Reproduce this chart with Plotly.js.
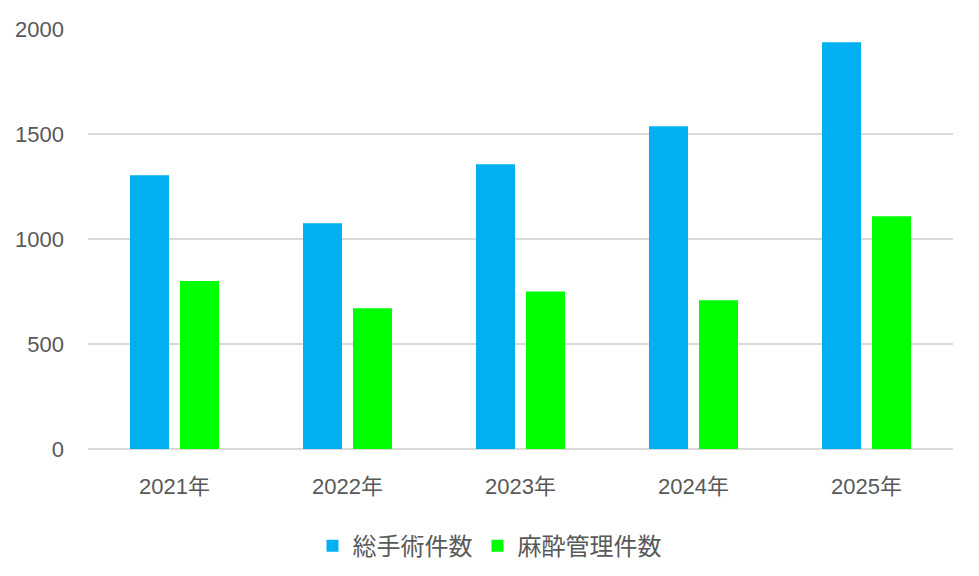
<!DOCTYPE html>
<html>
<head>
<meta charset="utf-8">
<script src="https://cdn.plot.ly/plotly-3.0.1.min.js"></script>
<style>html,body{margin:0;padding:0;background:#fff;}#chart{width:979px;height:576px;}</style>
</head>
<body>
<div id="chart"></div>
<script>
const categories = ["2021年", "2022年", "2023年", "2024年", "2025年"];
const seriesNames = ["総手術件数", "麻酔管理件数"];
const totalSurgeries = [1303, 1075, 1356, 1537, 1937];
const anesthesiaCases = [800, 670, 750, 708, 1108];
const yTicks = [0, 500, 1000, 1500, 2000];

const fontFamily = '"Liberation Sans", Arial, "Noto Sans CJK JP", sans-serif';

const data = [
  {type: 'bar', name: seriesNames[0], x: categories, y: totalSurgeries, marker: {color: '#00B0F0'}, hoverinfo: 'none'},
  {type: 'bar', name: seriesNames[1], x: categories, y: anesthesiaCases, marker: {color: '#00FF00'}, hoverinfo: 'none'}
];

const layout = {
  width: 979, height: 576,
  margin: {l: 88, r: 26, t: 29, b: 127},
  paper_bgcolor: '#ffffff', plot_bgcolor: '#ffffff',
  font: {family: fontFamily, color: '#595959', size: 22},
  barmode: 'group',
  bargap: 0.422,
  bargroupgap: 0.22,
  showlegend: true,
  legend: {
    orientation: 'h', x: 0.5, xanchor: 'center', xref: 'container',
    y: 0.052, yanchor: 'middle', yref: 'container',
    font: {family: '"Noto Sans CJK JP", sans-serif', size: 24, color: '#595959'},
    itemsizing: 'constant'
  },
  xaxis: {
    showgrid: false, showline: false, zeroline: false,
    ticks: '', ticklabelstandoff: 22,
    tickfont: {size: 22, color: '#595959'}
  },
  yaxis: {
    range: [0, 2000], tickvals: yTicks, ticktext: yTicks.map(String),
    showgrid: true, gridcolor: '#D9D9D9', gridwidth: 1.5,
    zeroline: true, zerolinecolor: '#D9D9D9', zerolinewidth: 1.5,
    showline: false, ticks: '', ticklabelstandoff: 23,
    tickfont: {size: 22, color: '#595959'}
  }
};

Plotly.newPlot('chart', data, layout, {staticPlot: true, displayModeBar: false});
</script>
</body>
</html>
